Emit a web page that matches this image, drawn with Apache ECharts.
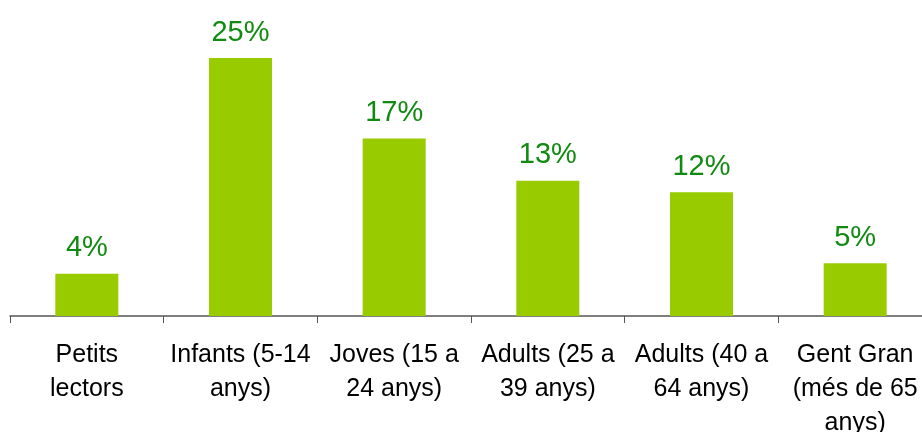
<!DOCTYPE html>
<html>
<head>
<meta charset="utf-8">
<script src="https://cdn.jsdelivr.net/npm/echarts@6/dist/echarts.min.js"></script>
<style>
  html, body { margin: 0; padding: 0; background: #fff; }
  #chart { width: 922px; height: 432px; }
</style>
</head>
<body>
<div id="chart"></div>
<script>
// reader groups (line breaks as in the original labels) and share of readers (%)
var categories = ['Petits\nlectors', 'Infants (5-14\nanys)', 'Joves (15 a\n24 anys)', 'Adults (25 a\n39 anys)', 'Adults (40 a\n64 anys)', 'Gent Gran\n(més de 65\nanys)']
var shares = [4.1, 25, 17.2, 13.1, 12.0, 5.1]

var chart = echarts.init(document.getElementById('chart'))
chart.setOption({
  animation: false,
  grid: {
    left: 10,
    right: -10,
    top: 58,
    bottom: 116,
    outerBoundsMode: 'none',
    containLabel: false
  },
  xAxis: {
    type: 'category',
    data: categories,
    axisLine: { lineStyle: { color: '#555', width: 1.5 } },
    axisTick: { show: true, length: 7, lineStyle: { color: '#555' } },
    axisLabel: {
      interval: 0,
      color: '#000',
      fontFamily: 'Liberation Sans, Arial, sans-serif',
      fontSize: 25,
      lineHeight: 34,
      margin: 22
    }
  },
  yAxis: {
    type: 'value',
    min: 0,
    max: 25,
    show: false
  },
  series: [{
    type: 'bar',
    data: shares,
    barWidth: 63,
    itemStyle: { color: '#99cc00' },
    label: {
      show: true,
      position: 'top',
      distance: 11,
      color: '#108a10',
      fontFamily: 'Liberation Sans, Arial, sans-serif',
      fontSize: 29,
      formatter: function (p) { return Math.round(p.value) + '%' }
    }
  }]
})
</script>
</body>
</html>
